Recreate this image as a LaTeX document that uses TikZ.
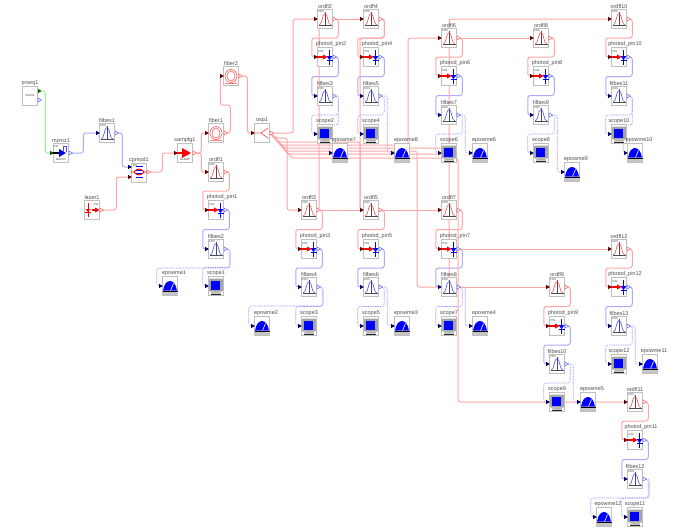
\documentclass[tikz,border=0pt]{standalone}
\usepackage{fontspec}
\setmainfont{Liberation Sans}
\usetikzlibrary{calc}
\pgfdeclarelayer{background}
\pgfsetlayers{background,main}
\definecolor{optpink}{RGB}{255,165,165}
\definecolor{elecblue}{RGB}{170,170,255}
\tikzstyle{block}=[draw=gray!50,fill=white,line width=1pt,minimum width=15.5pt,minimum height=18.5pt,inner sep=0pt]
\tikzstyle{blocklabel}=[font=\fontsize{5.5}{6}\selectfont,text=gray!60!black,inner sep=0.4pt]
\tikzstyle{tinytext}=[font=\fontsize{2.8}{3}\selectfont,text=gray!50!black,inner sep=0pt]
\tikzstyle{optwire}=[draw=optpink,line width=1pt,rounded corners=2.5pt]
\tikzstyle{elecwire}=[draw=elecblue,line width=1pt,rounded corners=2.5pt]
\tikzstyle{bitwire}=[draw=green!45,line width=1pt,rounded corners=2.5pt]
\tikzstyle{scopewire}=[draw=blue!40,line width=0.6pt,dash pattern=on 1.4pt off 0.9pt,rounded corners=2.5pt]
\newcommand{\inport}[2]{\fill[#1] (-11,#2-2.2) -- (-7.2,#2) -- (-11,#2+2.2) -- cycle;}
\newcommand{\outport}[2]{\draw[#1,fill=white,line width=0.5pt] (8,#2-2) -- (11.5,#2) -- (8,#2+2) -- cycle;}
\tikzset{
  pics/bandicon/.style={code={
    \inport{#1!40!black}{0}
    \outport{#1!60}{0}
    \node[tinytext] (tag) at (-4,-7) {COS};
    \draw[gray!60!black,line width=0.3pt] (-6.5,6.5) -- (6.5,6.5) (0,6.5) -- (0,-7.5);
    \draw[#1!70,line width=0.6pt] (-6,6.2) .. controls (-2.5,6) and (-3,-5.5) .. (0,-5.5) .. controls (3,-5.5) and (2.5,6) .. (6,6.2);
  }},
  pics/pinicon/.style={code={
    \inport{red!40!black}{0}
    \outport{blue!60}{0}
    \node[tinytext] (tag) at (-4,-5.5) {PIN};
    \draw[red,line width=1.2pt] (-8,0) -- (-1,0);
    \fill[red] (-2,-2.6) -- (2.5,0) -- (-2,2.6) -- cycle;
    \draw[blue,line width=0.9pt] (4.5,-7) -- (4.5,8);
    \fill[blue] (1.5,-1) -- (7.5,-1) -- (4.5,3) -- cycle;
    \draw[blue,line width=0.7pt] (1.5,3.2) -- (7.5,3.2);
  }},
  pics/scopeicon/.style={code={
    \inport{blue!40!black}{0}
    \fill[gray!70,rounded corners=0.8pt] (-6.8,-7.5) rectangle (6.8,5.5);
    \fill[blue] (-4.6,-5.5) rectangle (4.4,3.8);
    \fill[gray!60] (-4,5.5) -- (4,5.5) -- (5,7.5) -- (-5,7.5) -- cycle;
    \fill[gray!30!black] (-5,7.5) rectangle (5,8.4);
  }},
  pics/powericon/.style={code={
    \inport{blue!40!black}{0}
    \fill[gray!45] (-7.5,6.2) rectangle (7.5,9);
    \fill[blue] (-7,4.5) .. controls (-6,-2) and (-3,-5) .. (0,-5) .. controls (3,-5) and (6,-2) .. (7,4.5) -- cycle;
    \fill[black] (-7.5,4.5) rectangle (7.5,6.2);
    \draw[white,line width=0.6pt] (0.5,4.5) -- (3.5,-2.5);
  }},
  pics/fibericon/.style={code={
    \inport{red!40!black}{0}
    \outport{red!60}{0}
    \draw[red!65,line width=0.6pt] (0,0) ellipse (6pt and 6.5pt) (0,0) ellipse (4pt and 5pt);
    \draw[red!50,line width=0.5pt] (-6,7) -- (6,7);
  }},
  pics/seqicon/.style={code={
    \node[tinytext] (tag) at (0,0) {010101};
    \fill[green!40!black] (8,-7.2) -- (11.5,-5) -- (8,-2.8) -- cycle;
    \outport{blue!60}{4}
  }},
  pics/machicon/.style={code={
    \inport{green!30!black}{0}
    \outport{blue!60}{0}
    \node[tinytext] (tag) at (-5,-6) {CW};
    \node[tinytext] (tagb) at (0,7) {MACHZ};
    \draw[black,line width=1.2pt] (-8,0) -- (-1,0);
    \fill[blue] (-2,-4) -- (5,0) -- (-2,4) -- cycle;
    \draw[blue!70,line width=0.7pt] (2,-1) -- (2,-7) -- (5.5,-7) -- (5.5,-1);
  }},
  pics/modicon/.style={code={
    \inport{blue!40!black}{-6}
    \inport{red!40!black}{4}
    \outport{red!60}{-1}
    \node[tinytext] (tag) at (-4,-7.5) {EO};
    \draw[blue,line width=0.9pt] (-3.5,-6.5) -- (4,-6.5) (-3.5,-3) -- (4,-3) (-3.5,0.5) -- (4,0.5) (-3.5,4.5) -- (4,4.5);
    \draw[red,line width=0.9pt] (-8,-1) -- (-5,-1) .. controls (-2,-5) and (2,-5) .. (5,-1) -- (8,-1) (-5,-1) .. controls (-2,3) and (2,3) .. (5,-1);
  }},
  pics/lasericon/.style={code={
    \outport{red!60}{0}
    \node[tinytext] (tag) at (4,-5) {CW};
    \draw[red,line width=0.8pt] (-4,-7) -- (-4,7) (-7,2) -- (-1,2);
    \fill[red] (-6.5,-1) -- (-1.5,-1) -- (-4,2) -- cycle;
    \draw[red,line width=1.2pt] (0,0) -- (4,0);
    \fill[red] (3,-2.5) -- (7.5,0) -- (3,2.5) -- cycle;
  }},
  pics/ampicon/.style={code={
    \inport{red!40!black}{0}
    \outport{red!60}{0}
    \node[tinytext] (tag) at (0,6.5) {OLAMP};
    \draw[red,line width=1.2pt] (-8,0) -- (-2,0);
    \fill[red] (-3,-5) -- (6,0) -- (-3,5) -- cycle;
  }},
  pics/splitpic/.style={code={
    \inport{red!40!black}{0}
    \outport{red!60}{0}
    \draw[red!65,line width=0.7pt] (-7,0) -- (-1,0) -- (6,-5) (-1,0) -- (6,5);
  }}
}
\begin{document}
\begin{tikzpicture}[x=1pt,y=-1pt]
    \useasboundingbox (0,0) rectangle (677,530);
    % first the chain blocks on the left
    \foreach \pos/\name/\icon in {{(30,96)/prseq1/seqicon},{(61,153)/mzmz1/machicon},{(139,173)/cpmod1/modicon},{(92,210)/laser1/lasericon},{(185,153)/sampfg1/ampicon},{(216,133)/fiber1/fibericon},{(231,76)/fiber2/fibericon},{(262,133)/osp1/splitpic}}{
        \node[block,label={[blocklabel]90:\name}] (\name) at \pos {};
        \pic at (\name) {\icon};
    }
    % the repeated receiver blocks
    \foreach \pos/\n in {{(216,172)/1},{(325,19)/2},{(309,210)/3},{(371,19)/4},{(371,210)/5},{(449,38)/6},{(449,210)/7},{(541,38)/8},{(557,287)/9},{(619,19)/10},{(635,402)/11},{(619,249)/12}}{
        \node[block,label={[blocklabel]90:ordfl\n}] (ordfl\n) at \pos {};
        \pic at (ordfl\n) {bandicon=red};
    }
    \foreach \pos/\n in {{(216,210)/1},{(325,57)/2},{(309,249)/3},{(371,57)/4},{(371,249)/5},{(449,76)/6},{(449,249)/7},{(541,76)/8},{(557,326)/9},{(619,57)/10},{(635,440)/11},{(619,287)/12}}{
        \node[block,label={[blocklabel,xshift=6pt]90:photod\_pin\n}] (pin\n) at \pos {};
        \pic at (pin\n) {pinicon};
    }
    \foreach \pos/\n in {{(107,133)/1},{(216,249)/2},{(325,96)/3},{(309,287)/4},{(371,96)/5},{(371,287)/6},{(449,115)/7},{(449,287)/8},{(541,115)/9},{(557,364)/10},{(619,96)/11},{(635,479)/12},{(619,326)/13}}{
        \node[block,label={[blocklabel]90:filbes\n}] (filbes\n) at \pos {};
        \pic at (filbes\n) {bandicon=blue};
    }
    \foreach \pos/\n in {{(216,286)/1},{(325,134)/2},{(309,326)/3},{(371,134)/4},{(371,326)/5},{(449,153)/6},{(449,326)/7},{(541,153)/8},{(557,402)/9},{(619,134)/10},{(635,517)/11},{(619,364)/12}}{
        \node[block,label={[blocklabel]90:scope\n}] (scope\n) at \pos {};
        \pic at (scope\n) {scopeicon};
    }
    \foreach \pos/\n in {{(170,286)/1},{(262,326)/2},{(402,326)/3},{(480,326)/4},{(588,402)/5},{(480,153)/6},{(340,153)/7},{(402,153)/8},{(572,172)/9},{(635,153)/10},{(650,364)/11},{(604,517)/12}}{
        \node[block,label={[blocklabel,xshift=4pt]90:epowme\n}] (epowme\n) at \pos {};
        \pic at (epowme\n) {powericon};
    }

    \begin{pgfonlayer}{background}
    % transmitter
    \path[bitwire] ([yshift=5pt]prseq1.east) -- ++(7,0) |- (mzmz1.west);
    \path[elecwire] (mzmz1.east) -- ++(14,0) |- (filbes1.west);
    \path[elecwire] (filbes1.east) -- ++(7,0) |- ([yshift=6pt]cpmod1.west);
    \path[optwire] (laser1.east) -- ++(16,0) |- ([yshift=-4pt]cpmod1.west);
    \path[optwire] ([yshift=1pt]cpmod1.east) -- ++(15,0) |- (sampfg1.west);
    \foreach \dest in {fiber1,ordfl1}
        \path[optwire] (sampfg1.east) -- ++(8,0) |- (\dest.west);
    \path[optwire] (fiber1.east) -- ++(6,0) -- ++(0,-28) -- ++(-10,0) |- (fiber2.west);
    \path[optwire] (fiber2.east) -- ++(8,0) |- (osp1.west);

    % receiver chains, block above to block below
    \foreach \n [count=\m from 2] in {1,...,12}{
        \path[optwire] (ordfl\n.east) -- ++(5,0) |- ($(ordfl\n)!.5!(pin\n)$) -| ($(pin\n.west)+(-5,0)$) -- (pin\n.west);
        \path[elecwire] (pin\n.east) -- ++(5,0) |- ($(pin\n)!.5!(filbes\m)$) -| ($(filbes\m.west)+(-5,0)$) -- (filbes\m.west);
        \path[scopewire] (filbes\m.east) -- ++(5,0) |- ($(filbes\m)!.5!(scope\n)$) -| ($(scope\n.west)+(-5,0)$) -- (scope\n.west);
    }
    % power meters
    \foreach \source/\dest in {filbes6/epowme3,filbes8/epowme4,filbes10/epowme5,filbes7/epowme6,filbes5/epowme8,filbes9/epowme9,filbes13/epowme11}
        \path[scopewire] (\source.east) -- ++(8,0) |- (\dest.west);
    \foreach \source/\dest in {filbes3/epowme7,filbes11/epowme10}
        \path[scopewire] (\source.east) -- ++(5,0) -- ++(0,29) -- ++(-9,0) |- (\dest.west);
    \foreach \source/\dest in {filbes2/epowme1,filbes4/epowme2,filbes12/epowme12}
        \path[scopewire] (\source.east) -- ++(6,0) -- ++(0,19) -| ($(\dest.west)+(-5,0)$) -- (\dest.west);

    % straight runs between stages
    \foreach \source/\dest in {ordfl2/ordfl4,ordfl3/ordfl5,ordfl5/ordfl7,ordfl6/ordfl8,pin7/ordfl12,filbes8/ordfl9}
        \path[optwire] ([yshift=-0.4pt]\source.east) -- ([yshift=-0.4pt]\dest.west);

    % the splitter fan
    \path[optwire] (osp1.east) -- (293,133) |- (ordfl2.west);
    \path[optwire] (osp1.east) -- (276,138) -- (287,138) |- (ordfl3.west);
    \path[optwire] (osp1.east) -- (279,142) -- (360,142) |- (ordfl5.west);
    \path[optwire] (osp1.east) -- (281,145) -- (408,145) |- (ordfl6.west);
    \path[optwire] (osp1.east) -- (284,148) -- (449,148) -- (filbes8.north);
    \path[optwire] (osp1.east) -- (286,151) -- (417,151) |- (filbes8.west);
    \path[optwire] (osp1.east) -- (288,154) -- (449,154) |- (ordfl10.west);
    \path[optwire] (osp1.east) -- (292,158) -- (458,158) |- (ordfl11.west);
    % the other vertical runs
    \path[optwire] (ordfl2.west) -- (319,19) -- (319,210) -- (ordfl3.east);
    \path[optwire] (ordfl4.east) -- ++(5,0) -- ++(0,19) -- (360,38) -- (360,210) -- (ordfl5.west);
    \end{pgfonlayer}
\end{tikzpicture}
\end{document}
